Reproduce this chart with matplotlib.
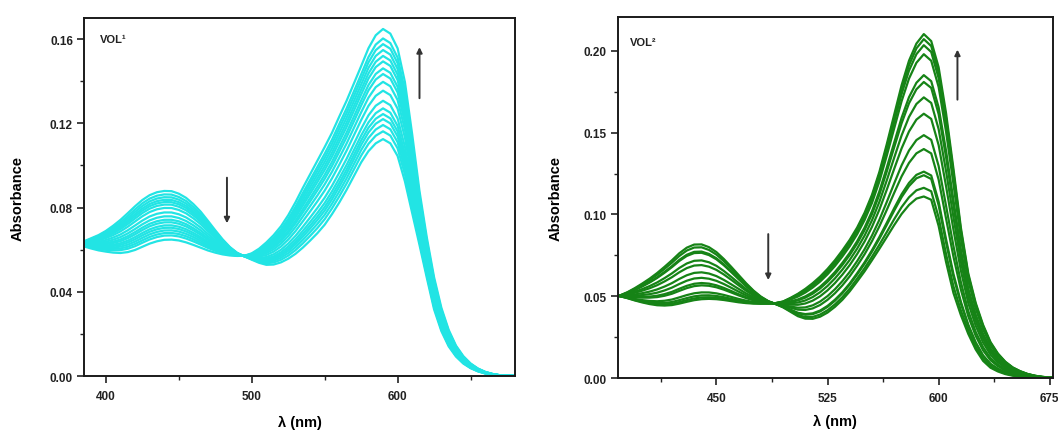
import numpy as np
import matplotlib
matplotlib.use("Agg")
from matplotlib import pyplot as plt
from matplotlib.ticker import MultipleLocator, FormatStrFormatter

plt.rcParams['font.family'] = ['Liberation Sans', 'DejaVu Sans']
plt.rcParams['font.weight'] = 'bold'

# --- VOL1 panel: first and last spectra of the titration (5 nm grid) ---
wl_left = np.arange(385, 681, 5)
first_left = [0.0640, 0.0655, 0.0670, 0.0690, 0.0715, 0.0743, 0.0775, 0.0808, 0.0838, 0.0861,
              0.0875, 0.0881, 0.0880, 0.0868, 0.0848, 0.0818, 0.0782, 0.0738, 0.0693, 0.0650,
              0.0613, 0.0585, 0.0568, 0.0552, 0.0537, 0.0527, 0.0528, 0.0538, 0.0555, 0.0578,
              0.0607, 0.0640, 0.0675, 0.0715, 0.0765, 0.0820, 0.0880, 0.0945, 0.1010, 0.1063,
              0.1100, 0.1120, 0.1100, 0.1040, 0.0920, 0.0770, 0.0620, 0.0465, 0.0315, 0.0212,
              0.0140, 0.0092, 0.0059, 0.0037, 0.0022, 0.0012, 0.0006, 0.0002, 0.0001, 0.0000]
last_left = [0.0615, 0.0605, 0.0596, 0.0590, 0.0585, 0.0583, 0.0587, 0.0597, 0.0612, 0.0627,
             0.0638, 0.0645, 0.0646, 0.0642, 0.0633, 0.0621, 0.0608, 0.0595, 0.0585, 0.0577,
             0.0572, 0.0570, 0.0571, 0.0583, 0.0605, 0.0635, 0.0670, 0.0712, 0.0765, 0.0827,
             0.0895, 0.0960, 0.1025, 0.1090, 0.1158, 0.1235, 0.1310, 0.1392, 0.1475, 0.1560,
             0.1622, 0.1652, 0.1630, 0.1560, 0.1400, 0.1150, 0.0880, 0.0660, 0.0470, 0.0325,
             0.0220, 0.0145, 0.0095, 0.0060, 0.0036, 0.0020, 0.0010, 0.0004, 0.0001, 0.0000]
# absorbance at 590 nm of each recorded spectrum
peaks_left = [0.1125, 0.1162, 0.1192, 0.1220, 0.1244, 0.1271, 0.1307, 0.1355, 0.1397,
              0.1434, 0.1461, 0.1494, 0.1520, 0.1548, 0.1576, 0.1603, 0.1648]

# --- VOL2 panel ---
wl_right = np.arange(380, 681, 5)
first_right = [0.0495, 0.0505, 0.0525, 0.0550, 0.0578, 0.0608, 0.0642, 0.0680, 0.0720, 0.0763,
               0.0797, 0.0816, 0.0817, 0.0800, 0.0770, 0.0728, 0.0680, 0.0630, 0.0580, 0.0535,
               0.0498, 0.0470, 0.0452, 0.0432, 0.0405, 0.0378, 0.0363, 0.0362, 0.0375, 0.0400,
               0.0435, 0.0478, 0.0530, 0.0590, 0.0652, 0.0720, 0.0790, 0.0862, 0.0935, 0.1003,
               0.1058, 0.1097, 0.1110, 0.1090, 0.0930, 0.0710, 0.0520, 0.0385, 0.0270, 0.0175,
               0.0105, 0.0063, 0.0040, 0.0024, 0.0014, 0.0008, 0.0004, 0.0002, 0.0001, 0.0000,
               0.0000]
last_right = [0.0505, 0.0500, 0.0488, 0.0474, 0.0462, 0.0452, 0.0445, 0.0443, 0.0446, 0.0455,
              0.0466, 0.0476, 0.0482, 0.0484, 0.0482, 0.0477, 0.0470, 0.0463, 0.0458, 0.0455,
              0.0454, 0.0455, 0.0458, 0.0468, 0.0490, 0.0515, 0.0545, 0.0580, 0.0620, 0.0667,
              0.0720, 0.0780, 0.0845, 0.0920, 0.1010, 0.1120, 0.1260, 0.1430, 0.1610, 0.1790,
              0.1940, 0.2045, 0.2103, 0.2060, 0.1900, 0.1620, 0.1280, 0.0920, 0.0640, 0.0460,
              0.0325, 0.0220, 0.0150, 0.0100, 0.0065, 0.0042, 0.0025, 0.0014, 0.0007, 0.0003,
              0.0000]
peaks_right = [0.1110, 0.1163, 0.1240, 0.1262, 0.1400, 0.1485, 0.1616, 0.1716, 0.1810,
               0.1852, 0.1980, 0.2035, 0.2072, 0.2103]


def spectra(wl, first, last, peaks):
    # two-species mixture (isosbestic points), weighted by the 590 nm reading
    first = np.array(first)
    last = np.array(last)
    i = np.argmin(np.abs(wl - 590))
    out = []
    for p in peaks:
        f = (p - first[i]) / (last[i] - first[i])
        out.append(first + f * (last - first))
    return out


def style_axis(ax):
    for s in ax.spines.values():
        s.set_linewidth(1.4)
        s.set_color('#1a1a1a')
    ax.tick_params(which='major', direction='out', length=5, width=1.2, labelsize=8.5,
                   colors='#222222')
    ax.tick_params(axis='x', which='major', pad=5)
    ax.tick_params(axis='y', which='major', pad=3)
    ax.tick_params(which='minor', direction='out', length=3, width=1.0, colors='#222222')
    ax.set_ylabel('Absorbance', fontsize=10.5, fontweight='bold')
    ax.set_xlabel('\u03bb (nm)', fontsize=10.5, fontweight='bold')
    ax.yaxis.set_major_formatter(FormatStrFormatter('%.2f'))


fig = plt.figure(figsize=(10.58, 4.35), dpi=100)
ax1 = fig.add_axes([0.0794, 0.1333, 0.4074, 0.822])
ax2 = fig.add_axes([0.584, 0.1287, 0.411, 0.829])

# left panel
for y in spectra(wl_left, first_left, last_left, peaks_left):
    ax1.plot(wl_left, y, color='#22e4e4', linewidth=1.6)
ax1.set_xlim(385, 680.5)
ax1.set_ylim(0, 0.1698)
ax1.xaxis.set_major_locator(MultipleLocator(100))
ax1.xaxis.set_minor_locator(MultipleLocator(50))
ax1.yaxis.set_major_locator(MultipleLocator(0.04))
ax1.yaxis.set_minor_locator(MultipleLocator(0.02))
style_axis(ax1)
ax1.yaxis.set_label_coords(-0.137, 0.5)
ax1.xaxis.set_label_coords(0.5, -0.108)
ax1.text(0.037, 0.942, 'VOL\u00b9', transform=ax1.transAxes, fontsize=8,
         fontweight='bold', va='center', ha='left', color='#222222')
ax1.annotate('', xy=(483, 0.0712), xytext=(483, 0.0955),
             arrowprops=dict(arrowstyle='-|>', color='#333333', lw=1.4, mutation_scale=8))
ax1.annotate('', xy=(615, 0.1575), xytext=(615, 0.1306),
             arrowprops=dict(arrowstyle='-|>', color='#333333', lw=1.4, mutation_scale=8))

# right panel
for y in spectra(wl_right, first_right, last_right, peaks_right):
    ax2.plot(wl_right, y, color='#168316', linewidth=1.6)
ax2.set_xlim(383.5, 677)
ax2.set_ylim(0, 0.2205)
ax2.xaxis.set_major_locator(MultipleLocator(75))
ax2.xaxis.set_minor_locator(MultipleLocator(37.5))
ax2.yaxis.set_major_locator(MultipleLocator(0.05))
ax2.yaxis.set_minor_locator(MultipleLocator(0.025))
style_axis(ax2)
ax2.yaxis.set_label_coords(-0.126, 0.5)
ax2.xaxis.set_label_coords(0.5, -0.1)
ax2.text(0.028, 0.932, 'VOL\u00b2', transform=ax2.transAxes, fontsize=8,
         fontweight='bold', va='center', ha='left', color='#222222')
ax2.annotate('', xy=(485, 0.0582), xytext=(485, 0.0897),
             arrowprops=dict(arrowstyle='-|>', color='#333333', lw=1.4, mutation_scale=8))
ax2.annotate('', xy=(612.7, 0.2025), xytext=(612.7, 0.1685),
             arrowprops=dict(arrowstyle='-|>', color='#333333', lw=1.4, mutation_scale=8))

fig.savefig('out.png', dpi=100)
